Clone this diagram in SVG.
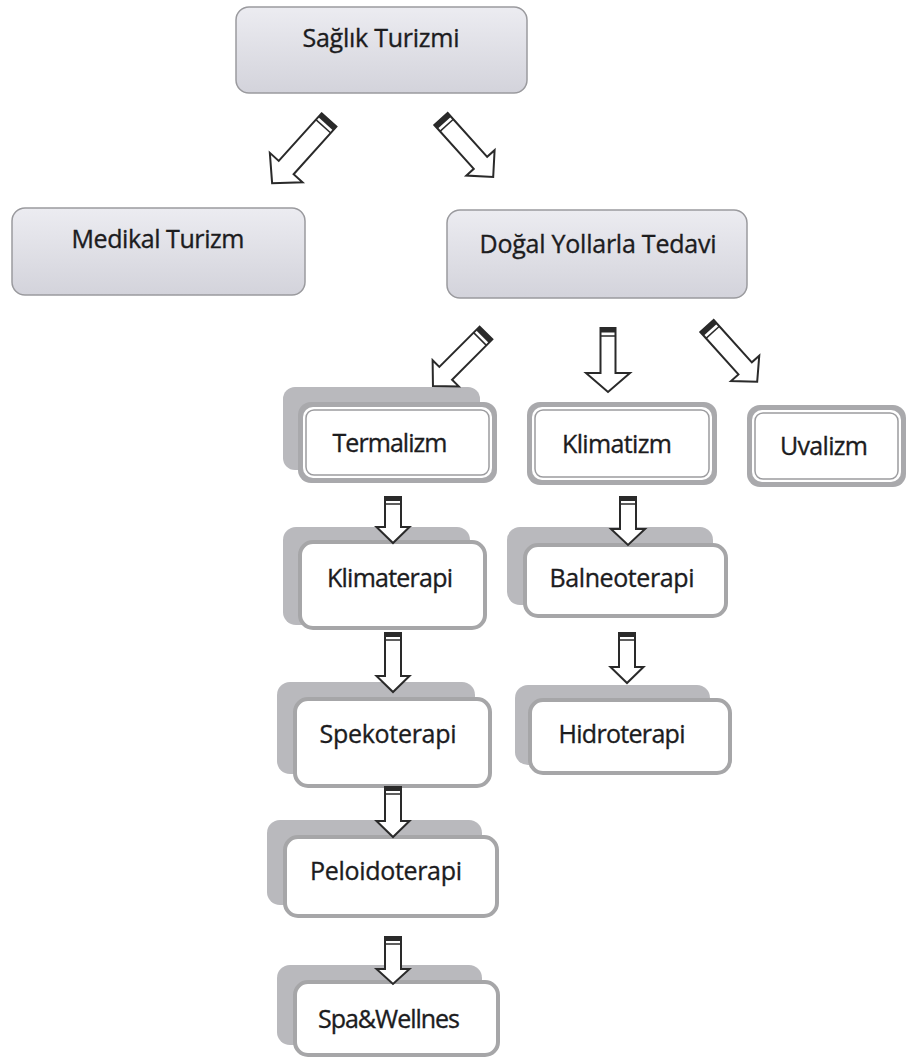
<svg xmlns="http://www.w3.org/2000/svg" width="908" height="1063" viewBox="0 0 908 1063">
<defs>
<linearGradient id="gTop" x1="0" y1="0" x2="0" y2="1">
<stop offset="0" stop-color="#ececf1"/>
<stop offset="1" stop-color="#d3d3db"/>
</linearGradient>
<style>
.lbl{font-family:"Open Sans","Noto Sans","DejaVu Sans",sans-serif;font-size:25px;fill:#1c1c1e;stroke:#1c1c1e;stroke-width:0.35;text-anchor:middle}
.top{fill:url(#gTop);stroke:#9a9a9e;stroke-width:1.5}
.back{fill:#b9b9bd}
.front{fill:#fff;stroke:#a6a6a8;stroke-width:4}
.dblo{fill:#a9a9ac}
.dbli{fill:#fff}
.dbll{fill:none;stroke:#9c9c9f;stroke-width:1.5}
.arr{fill:#fff;stroke:#2a2a2a;stroke-width:2;stroke-linejoin:miter}
.cap{fill:#2a2a2a}
.capl{stroke:#2a2a2a;stroke-width:1.5}
</style>
</defs>
<rect width="908" height="1063" fill="#fff"/>

<g id="n-saglik">
<rect class="top" x="236" y="7" width="291" height="86" rx="13"/>
<text class="lbl" x="381" y="47" textLength="157">Sağlık Turizmi</text>
</g>
<g id="n-medikal">
<rect class="top" x="12" y="208" width="293" height="87" rx="13"/>
<text class="lbl" x="158" y="248" textLength="173">Medikal Turizm</text>
</g>
<g id="n-dogal">
<rect class="top" x="447" y="210" width="300" height="88" rx="13"/>
<text class="lbl" x="598" y="253" textLength="237">Doğal Yollarla Tedavi</text>
</g>

<g id="n-termalizm">
<rect class="back" x="283" y="387" width="197" height="83" rx="12"/>
<rect class="dblo" x="298" y="402" width="199" height="81" rx="13"/>
<rect class="dbli" x="303" y="407" width="189" height="71" rx="10"/>
<rect class="dbll" x="306" y="410" width="183" height="65" rx="8"/>
<text class="lbl" x="390" y="452" textLength="115">Termalizm</text>
</g>
<g id="n-klimatizm">
<rect class="dblo" x="527" y="402" width="190" height="83" rx="13"/>
<rect class="dbli" x="532" y="407" width="180" height="73" rx="10"/>
<rect class="dbll" x="535" y="410" width="174" height="67" rx="8"/>
<text class="lbl" x="617" y="453" textLength="110">Klimatizm</text>
</g>
<g id="n-uvalizm">
<rect class="dblo" x="747" y="405" width="159" height="82" rx="13"/>
<rect class="dbli" x="752" y="410" width="149" height="72" rx="10"/>
<rect class="dbll" x="755" y="413" width="143" height="66" rx="8"/>
<text class="lbl" x="824" y="455" textLength="88">Uvalizm</text>
</g>

<g id="n-klimaterapi">
<rect class="back" x="283" y="527" width="187" height="98" rx="13"/>
<rect class="front" x="300" y="542" width="185" height="86" rx="13"/>
<text class="lbl" x="390" y="587" textLength="126">Klimaterapi</text>
</g>
<g id="n-balneoterapi">
<rect class="back" x="507" y="527" width="206" height="78" rx="13"/>
<rect class="front" x="525" y="545" width="201" height="71" rx="13"/>
<text class="lbl" x="622" y="587" textLength="145">Balneoterapi</text>
</g>
<g id="n-hidroterapi">
<rect class="back" x="515" y="685" width="195" height="80" rx="13"/>
<rect class="front" x="530" y="700" width="200" height="73" rx="13"/>
<text class="lbl" x="622" y="743" textLength="127">Hidroterapi</text>
</g>
<g id="n-spekoterapi">
<rect class="back" x="277" y="682" width="198" height="92" rx="13"/>
<rect class="front" x="295" y="699" width="195" height="87" rx="13"/>
<text class="lbl" x="388" y="743" textLength="137">Spekoterapi</text>
</g>
<g id="n-peloidoterapi">
<rect class="back" x="267" y="820" width="215" height="85" rx="13"/>
<rect class="front" x="285" y="837" width="212" height="79" rx="13"/>
<text class="lbl" x="386" y="880" textLength="152">Peloidoterapi</text>
</g>
<g id="n-spa">
<rect class="back" x="277" y="965" width="205" height="80" rx="13"/>
<rect class="front" x="295" y="982" width="203" height="73" rx="13"/>
<text class="lbl" x="389" y="1028" textLength="142">Spa&amp;Wellnes</text>
</g>

<g id="connectors">
<g transform="translate(329,120) rotate(42)">
<path class="arr" d="M-10,0 L10,0 L10,64 L22,64 L0,85 L-22,64 L-10,64 Z"/>
<rect class="cap" x="-10" y="0" width="20" height="5"/>
<line class="capl" x1="-10" y1="8.5" x2="10" y2="8.5"/>
</g>
<g transform="translate(441,119) rotate(-42)">
<path class="arr" d="M-9,0 L9,0 L9,59 L19,59 L0,78 L-19,59 L-9,59 Z"/>
<rect class="cap" x="-9" y="0" width="18" height="5"/>
<line class="capl" x1="-9" y1="8.5" x2="9" y2="8.5"/>
</g>
<g transform="translate(486,333) rotate(45)">
<path class="arr" d="M-9,0 L9,0 L9,57 L18.5,57 L0,75 L-18.5,57 L-9,57 Z"/>
<rect class="cap" x="-9" y="0" width="18" height="5"/>
<line class="capl" x1="-9" y1="8.5" x2="9" y2="8.5"/>
</g>
<g transform="translate(707,326) rotate(-42)">
<path class="arr" d="M-9,0 L9,0 L9,57 L19,57 L0,75 L-19,57 L-9,57 Z"/>
<rect class="cap" x="-9" y="0" width="18" height="5"/>
<line class="capl" x1="-9" y1="8.5" x2="9" y2="8.5"/>
</g>
<g transform="translate(608,328)">
<path class="arr" d="M-7.5,0 L7.5,0 L7.5,45 L22,45 L0,64 L-22,45 L-7.5,45 Z"/>
<rect class="cap" x="-7.5" y="0" width="15" height="4.5"/>
<line class="capl" x1="-7.5" y1="8" x2="7.5" y2="8"/>
</g>
<g transform="translate(393,497)">
<path class="arr" d="M-8,0 L8,0 L8,30 L16.5,30 L0,46 L-16.5,30 L-8,30 Z"/>
<rect class="cap" x="-8" y="0" width="16" height="4"/>
<line class="capl" x1="-8" y1="7" x2="8" y2="7"/>
</g>
<g transform="translate(628,497)">
<path class="arr" d="M-8,0 L8,0 L8,32 L17,32 L0,48 L-17,32 L-8,32 Z"/>
<rect class="cap" x="-8" y="0" width="16" height="4"/>
<line class="capl" x1="-8" y1="7" x2="8" y2="7"/>
</g>
<g transform="translate(393,633)">
<path class="arr" d="M-8,0 L8,0 L8,43 L16.5,43 L0,59 L-16.5,43 L-8,43 Z"/>
<rect class="cap" x="-8" y="0" width="16" height="4"/>
<line class="capl" x1="-8" y1="7" x2="8" y2="7"/>
</g>
<g transform="translate(627,633)">
<path class="arr" d="M-8,0 L8,0 L8,34 L16.5,34 L0,50 L-16.5,34 L-8,34 Z"/>
<rect class="cap" x="-8" y="0" width="16" height="4"/>
<line class="capl" x1="-8" y1="7" x2="8" y2="7"/>
</g>
<g transform="translate(393,787)">
<path class="arr" d="M-8,0 L8,0 L8,34 L16.5,34 L0,50 L-16.5,34 L-8,34 Z"/>
<rect class="cap" x="-8" y="0" width="16" height="4"/>
<line class="capl" x1="-8" y1="7" x2="8" y2="7"/>
</g>
<g transform="translate(393,937)">
<path class="arr" d="M-8,0 L8,0 L8,32 L16.5,32 L0,47 L-16.5,32 L-8,32 Z"/>
<rect class="cap" x="-8" y="0" width="16" height="4"/>
<line class="capl" x1="-8" y1="7" x2="8" y2="7"/>
</g>
</g>
</svg>
